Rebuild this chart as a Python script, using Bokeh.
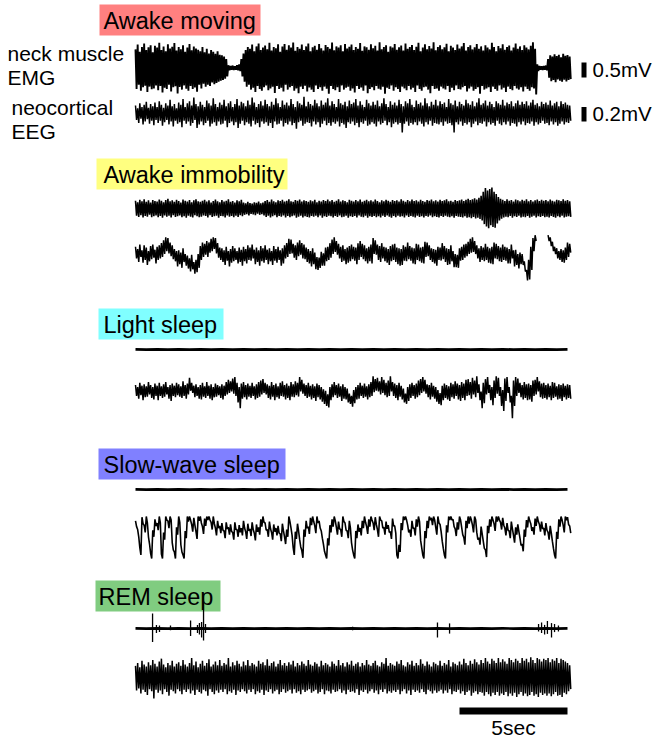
import numpy as np
from bokeh.plotting import figure
from bokeh.models import Range1d
from bokeh.core.properties import value
from bokeh.embed import file_html
from bokeh.resources import INLINE

# ---------------------------------------------------------------- data
# Dense channels are stored as min/max envelopes per 0.1 s bin (uV);
# quiet EMG channels as plain samples every 0.5 s.
DT_BIN = 0.1
DT_SLOW = 0.5

states = ["Awake moving", "Awake immobility", "Light sleep", "Slow-wave sleep", "REM sleep"]
state_colors = ["#FF8080", "#FFFF80", "#80FFFF", "#8080FF", "#80CC80"]

awake_moving_emg_max = [
    620, 780, 540, 700, 820, 600, 690, 760, 520, 740,
    680, 840, 600, 720, 560, 790, 650, 710, 830, 580,
    700, 620, 760, 540, 680, 800, 590, 720, 650, 610,
    560, 700, 520, 640, 480, 600, 540, 470, 560, 440,
    420, 380, 300, 90, 70, 80, 60, 90, 120, 300,
    480, 600, 700, 640, 780, 560, 720, 820, 600, 680,
    750, 620, 840, 580, 700, 660, 790, 540, 720, 800,
    610, 760, 680, 850, 570, 700, 640, 780, 600, 720,
    820, 560, 690, 740, 610, 800, 660, 580, 770, 700,
    640, 850, 590, 720, 680, 760, 560, 800, 650, 710,
    780, 600, 700, 640, 830, 570, 720, 690, 610, 790,
    660, 740, 580, 860, 620, 700, 760, 540, 720, 680,
    800, 610, 690, 750, 580, 820, 640, 700, 770, 600,
    710, 840, 560, 680, 790, 620, 730, 650, 860, 590,
    700, 760, 620, 690, 810, 560, 740, 680, 600, 780,
    650, 720, 830, 580, 700, 760, 620, 690, 800, 640,
    720, 580, 760, 680, 620, 840, 700, 560, 730, 660,
    790, 610, 700, 750, 580, 680, 820, 640, 720, 600,
    760, 680, 620, 740, 860, 640, 120, 70, 60, 70,
    80, 300, 420, 380, 460, 400, 440, 360, 470, 410, 430, 380,
]
awake_moving_emg_min = [
    -700, -560, -760, -640, -590, -800, -620, -710, -680, -580,
    -740, -600, -820, -660, -700, -560, -780, -640, -610, -850,
    -630, -720, -580, -690, -760, -600, -700, -650, -790, -560,
    -680, -520, -620, -560, -600, -480, -540, -500, -460, -420,
    -400, -360, -280, -80, -60, -70, -60, -80, -100, -280,
    -460, -620, -560, -720, -660, -800, -600, -700, -760, -640,
    -580, -740, -680, -620, -830, -600, -700, -660, -780, -560,
    -720, -640, -600, -760, -680, -840, -620, -700, -590, -780,
    -650, -720, -800, -580, -700, -640, -760, -620, -690, -860,
    -600, -700, -740, -640, -800, -580, -720, -660, -620, -760,
    -680, -820, -600, -700, -650, -760, -580, -840, -700, -640,
    -740, -600, -690, -720, -620, -860, -660, -700, -580, -760,
    -640, -700, -800, -620, -680, -740, -600, -720, -660, -800,
    -580, -700, -760, -640, -620, -720, -840, -600, -700, -680,
    -760, -620, -680, -720, -600, -800, -660, -740, -580, -700,
    -720, -640, -600, -780, -680, -620, -760, -700, -640, -860,
    -600, -720, -680, -640, -800, -620, -700, -760, -580, -720,
    -660, -800, -620, -700, -740, -600, -680, -720, -640, -780,
    -620, -700, -760, -640, -680, -880, -100, -60, -70, -60,
    -80, -320, -440, -400, -470, -380, -420, -460, -390, -450, -400, -370,
]

awake_moving_eeg_max = [
    110, 70, 140, 90, 120, 160, 80, 130, 100, 150,
    90, 170, 120, 80, 140, 110, 190, 100, 130, 70,
    150, 120, 200, 90, 140, 170, 110, 220, 130, 100,
    160, 120, 90, 180, 140, 110, 210, 130, 90, 150,
    120, 190, 100, 140, 170, 90, 130, 200, 110, 160,
    140, 100, 180, 120, 220, 150, 90, 130, 170, 110,
    190, 130, 100, 160, 120, 210, 140, 90, 180, 120,
    150, 110, 200, 130, 90, 170, 140, 120, 230, 100,
    160, 130, 110, 190, 140, 100, 180, 120, 150, 210,
    110, 170, 130, 90, 200, 140, 120, 160, 100, 180,
    130, 150, 200, 110, 170, 120, 90, 190, 140, 110,
    160, 120, 180, 100, 140, 210, 130, 90, 170, 120,
    150, 110, 190, 130, 100, 170, 140, 200, 120, 90,
    180, 130, 150, 110, 210, 140, 100, 160, 120, 190,
    110, 170, 130, 150, 90, 200, 140, 120, 180, 100,
    160, 130, 110, 190, 140, 120, 170, 100, 150, 210,
    120, 140, 180, 110, 160, 130, 90, 170, 140, 120,
    190, 110, 150, 130, 170, 100, 140, 180, 120, 160,
    130, 170, 110, 150, 190, 120, 140, 100, 160, 130,
    150, 120, 180, 110, 140, 160, 100, 170, 130, 150, 120, 110,
]
awake_moving_eeg_min = [
    -90, -130, -70, -150, -110, -80, -140, -100, -160, -90,
    -130, -100, -170, -120, -90, -150, -110, -180, -100, -140,
    -120, -190, -100, -140, -110, -170, -130, -90, -200, -150,
    -110, -160, -130, -100, -180, -140, -120, -170, -110, -150,
    -140, -100, -190, -130, -110, -160, -120, -200, -140, -100,
    -160, -120, -140, -180, -100, -150, -130, -190, -110, -140,
    -120, -170, -130, -200, -110, -150, -140, -100, -180, -130,
    -150, -110, -160, -130, -210, -120, -100, -170, -140, -120,
    -130, -180, -110, -150, -120, -190, -140, -100, -160, -130,
    -170, -120, -140, -110, -180, -130, -150, -200, -120, -140,
    -110, -160, -130, -190, -120, -140, -100, -170, -150, -120,
    -140, -180, -110, -150, -130, -100, -160, -120, -190, -140,
    -120, -150, -130, -260, -140, -110, -170, -130, -150, -120,
    -160, -110, -140, -180, -120, -150, -100, -170, -130, -140,
    -150, -120, -170, -110, -140, -130, -160, -260, -120, -150,
    -110, -170, -130, -150, -120, -190, -140, -110, -160, -130,
    -140, -110, -180, -120, -150, -130, -170, -100, -140, -160,
    -120, -150, -110, -170, -130, -140, -180, -120, -150, -110,
    -160, -130, -140, -110, -170, -120, -150, -130, -100, -140,
    -130, -160, -110, -150, -120, -170, -140, -110, -150, -120, -130, -100,
]

awake_immobility_emg_max = [
    260, 210, 290, 240, 310, 220, 270, 200, 280, 250,
    230, 300, 260, 210, 280, 320, 240, 270, 220, 290,
    250, 200, 300, 260, 230, 280, 210, 270, 310, 240,
    220, 260, 290, 230, 270, 200, 250, 300, 240, 210,
    280, 230, 260, 310, 220, 250, 200, 270, 240, 290,
    200, 170, 220, 180, 160, 210, 190, 230, 170, 200,
    250, 280, 220, 300, 240, 210, 270, 250, 290, 230,
    260, 310, 240, 220, 280, 260, 300, 230, 270, 250,
    220, 270, 240, 290, 210, 260, 230, 280, 250, 300,
    240, 280, 220, 260, 310, 230, 270, 250, 210, 290,
    260, 230, 280, 240, 300, 220, 260, 290, 240, 270,
    230, 300, 250, 210, 270, 240, 290, 260, 220, 280,
    250, 270, 230, 310, 260, 220, 280, 240, 300, 250,
    270, 230, 290, 250, 220, 280, 260, 300, 240, 270,
    230, 290, 250, 270, 310, 240, 260, 220, 280, 250,
    270, 300, 250, 290, 320, 280, 310, 340, 300, 360,
    420, 560, 680, 600, 650, 700, 560, 480, 380, 320,
    290, 250, 310, 260, 280, 230, 300, 270, 240, 290,
    260, 310, 240, 280, 230, 270, 300, 250, 290, 260,
    280, 240, 300, 260, 230, 290, 270, 250, 310, 260, 280, 240,
]
awake_immobility_emg_min = [
    -240, -280, -220, -300, -250, -270, -210, -290, -260, -230,
    -290, -250, -310, -230, -270, -240, -300, -220, -280, -260,
    -230, -290, -260, -310, -240, -270, -300, -220, -260, -290,
    -270, -230, -250, -300, -220, -280, -260, -240, -310, -250,
    -260, -300, -230, -270, -250, -290, -240, -280, -220, -260,
    -210, -190, -230, -180, -200, -220, -170, -210, -190, -230,
    -280, -240, -300, -260, -220, -290, -250, -270, -230, -300,
    -250, -290, -260, -230, -310, -270, -240, -300, -260, -280,
    -300, -250, -270, -240, -290, -230, -310, -260, -280, -240,
    -260, -300, -250, -280, -230, -290, -270, -240, -310, -260,
    -280, -250, -300, -230, -270, -290, -240, -310, -260, -280,
    -250, -290, -260, -300, -240, -280, -230, -270, -310, -250,
    -290, -240, -270, -260, -300, -230, -280, -250, -270, -300,
    -240, -280, -260, -300, -250, -270, -230, -290, -260, -280,
    -300, -250, -280, -240, -270, -290, -260, -310, -250, -270,
    -280, -300, -260, -310, -290, -320, -280, -330, -310, -350,
    -400, -520, -600, -660, -560, -620, -640, -500, -400, -340,
    -300, -270, -290, -250, -310, -260, -280, -240, -300, -270,
    -290, -250, -310, -270, -240, -300, -260, -280, -250, -290,
    -270, -300, -250, -280, -310, -260, -290, -240, -300, -270, -260, -280,
]

# None: signal outside the recorded window
awake_immobility_eeg_max = [
    120, 90, 150, 70, 140, 110, 60, 130, 150, 80,
    120, 140, 170, 210, 250, 240, 180, 140, 90, 60,
    70, 40, 100, 20, 0, -40, 10, -90, -60, 20,
    130, 180, 160, 200, 180, 230, 250, 240, 170, 110,
    100, 70, 120, 60, 90, 130, 100, 60, 110, 80,
    120, 90, 140, 110, 150, 80, 110, 70, 130, 100,
    140, 80, 100, 60, 130, 90, 120, 70, 100, 140,
    170, 230, 220, 160, 140, 180, 210, 170, 150, 110,
    90, 60, 100, 40, -20, -30, 50, 30, 110, 120,
    170, 220, 250, 200, 160, 120, 140, 90, 110, 130,
    150, 120, 110, 170, 200, 160, 140, 100, 120, 150,
    240, 210, 150, 130, 170, 120, 110, 90, 130, 150,
    160, 110, 100, 90, 140, 120, 180, 130, 110, 100,
    160, 150, 110, 120, 190, 180, 140, 100, 90, 80,
    120, 110, 170, 130, 100, 90, 140, 60, 20, 10,
    100, 120, 150, 160, 190, 230, 250, 200, 140, 100,
    130, 110, 160, 120, 100, 120, 180, 160, 130, 110,
    150, 120, 110, 90, 150, 70, 80, 20, 40, 20,
    -80, -200, -60, 120, 240, 280,
    None, None, None, None, None,
    280, 250, 190, 120, 100, 60, 90, 70, 110, 180, 160,
]
awake_immobility_eeg_min = [
    -40, -90, -20, -100, -60, -130, -80, -50, -30, -110,
    -60, -40, -20, 20, 60, 30, -10, -50, -80, -150,
    -120, -170, -90, -140, -180, -220, -190, -250, -230, -170,
    -60, -20, 10, -20, 40, 60, 90, 30, -30, -60,
    -90, -130, -70, -150, -100, -80, -60, -110, -90, -140,
    -80, -110, -60, -70, -40, -120, -90, -140, -80, -100,
    -60, -120, -80, -130, -70, -100, -60, -140, -110, -40,
    -20, 20, 30, -30, -60, -10, 10, -40, -50, -90,
    -110, -150, -120, -190, -200, -170, -140, -140, -80, -60,
    -30, 20, 50, 10, -40, -90, -70, -120, -100, -80,
    -50, -70, -120, -60, -20, -50, -80, -110, -80, -110,
    20, 10, -60, -90, -40, -80, -100, -130, -80, -60,
    -90, -120, -140, -130, -70, -80, -50, -70, -110, -120,
    -60, -80, -100, -110, -20, -10, -60, -90, -110, -140,
    -60, -70, -50, -90, -130, -120, -80, -160, -160, -170,
    -70, -60, -30, -10, 20, 40, 50, 20, -40, -90,
    -60, -80, -60, -100, -110, -120, -40, -50, -80, -90,
    -60, -70, -110, -110, -40, -150, -130, -180, -120, -130,
    -220, -345, -330, -200, 60, 200,
    None, None, None, None, None,
    200, 130, 60, 20, -40, -60, -90, -100, -60, -20, 40,
]

light_sleep_emg = [
    4, -3, 5, -4, 3, -5, 4, -3, 5, -4, 3, -5, 4, -3,
    5, -4, 3, -4, 5, -5, 4, -3, 4, -5, 5, -3, 3, -4,
    4, -5, 5, -3, 4, -4, 5, -4, 3, -5, 4, -4, 5,
]

light_sleep_eeg_max = [
    90, 60, 120, 80, 100, 70, 130, 90, 60, 110,
    80, 120, 70, 100, 130, 60, 90, 110, 80, 120,
    100, 70, 140, 90, 110, 190, 120, 80, 100, 60,
    90, 120, 70, 130, 80, 100, 60, 110, 90, 70,
    100, 80, 130, 160, 140, 180, 200, 120, 60, 110,
    130, 90, 110, 80, 120, 70, 100, 130, 150, 170,
    120, 100, 80, 130, 90, 110, 70, 120, 140, 90,
    110, 80, 130, 100, 140, 120, 200, 160, 110, 90,
    120, 80, 100, 70, 110, 90, 60, 30, 10, -40,
    60, 100, 130, 90, 110, 70, 100, 60, 40, -30,
    -60, 20, 60, 90, 120, 80, 110, 70, 100, 130,
    210, 170, 190, 140, 200, 160, 120, 150, 210, 130,
    110, 90, 120, 80, 40, -30, 60, 100, 120, 90,
    110, 150, 170, 200, 160, 100, 90, 120, 80, 60,
    20, -20, 80, 110, 90, 70, 120, 100, 140, 110,
    90, 130, 110, 160, 170, 130, 190, 150, 210, 100,
    0, 120, 170, 200, 90, 60, 150, 210, 190, 60,
    20, 180, 200, 60, -60, 150, 200, 180, 120, 90,
    130, 100, 110, 90, 150, 160, 200, 140, 110, 120,
    90, 110, 80, 130, 120, 70, 100, 90, 110, 80, 100, 90,
]
light_sleep_eeg_min = [
    -60, -100, -50, -120, -80, -70, -40, -90, -110, -60,
    -120, -60, -90, -70, -40, -100, -130, -60, -80, -50,
    -70, -90, -60, -100, -40, 10, -20, -80, -60, -100,
    -110, -70, -90, -60, -100, -120, -80, -70, -50, -90,
    -110, -60, -40, -20, 0, -30, -60, -150, -230, -100,
    -80, -110, -70, -90, -60, -110, -90, -70, -40, -20,
    -40, -90, -110, -70, -120, -80, -100, -60, -70, -110,
    -90, -120, -70, -80, -50, -70, 0, -30, -60, -90,
    -70, -110, -90, -130, -80, -110, -140, -170, -200, -220,
    -120, -80, -50, -90, -70, -130, -100, -110, -150, -170,
    -210, -160, -110, -100, -60, -90, -70, -110, -80, -60,
    -10, 10, 0, -40, -20, -50, -80, -60, 0, -60,
    -90, -120, -70, -110, -150, -170, -130, -90, -60, -100,
    -80, -50, -20, 0, -30, -80, -110, -70, -100, -140,
    -170, -190, -120, -90, -110, -130, -80, -100, -60, -110,
    -130, -90, -120, -60, -50, -100, -40, -80, -20, -120,
    -230, -160, -40, -20, -120, -190, -90, -30, -60, -200,
    -270, -130, -20, -150, -370, -200, -60, -20, -80, -110,
    -90, -120, -110, -140, -60, -40, 0, -80, -100, -90,
    -110, -80, -120, -90, -70, -110, -100, -130, -80, -110, -90, -100,
]

slow_wave_emg = [
    3, -4, 5, -3, 4, -5, 3, -4, 5, -4, 3, -5, 4, -3,
    5, -3, 4, -4, 3, -5, 4, -3, 5, -4, 4, -3, 3, -5,
    5, -4, 3, -3, 4, -5, 5, -3, 3, -4, 4, -5, 3,
]

slow_wave_eeg_max = [
    230, 110, -140, 280, 170, 290, 10, -220, 100, 250,
    200, 290, -230, 70, 290, 230, 290, -70, -200, 140,
    290, -100, -240, 90, 290, 290, 180, 270, 80, 290,
    290, 150, 260, 290, 290, 210, 290, 130, 230, 160,
    200, 90, 210, 140, 180, 70, 210, 110, 170, 130,
    230, 80, 190, 120, 210, 60, 180, 140, 250, 290,
    200, 110, 220, 70, 180, 130, 160, 50, 190, 10,
    110, 290, 130, -140, 80, 190, -30, -180, 110, 230,
    150, 270, 290, 160, 290, 230, 90, -90, -240, -10,
    170, 250, 290, 140, 220, 110, 290, 200, 90, 230,
    -70, -240, 90, 180, 130, 230, 290, 150, 250, 290,
    200, 280, 110, 290, 230, 140, 220, 170, 80, 260,
    160, -240, -100, 200, 290, 290, 170, 110, 230, 130,
    250, 290, -40, -240, 90, 230, 290, 270, 290, 140,
    290, 180, -50, -240, 170, 290, 290, 250, 120, 210,
    290, 140, 0, 230, 290, 290, 170, 290, 70, 0,
    150, -50, -170, 160, 250, 290, 190, 290, 290, 210,
    270, 130, 200, 90, 220, 30, 140, 180, -10, -90,
    110, 240, 290, 190, 140, 260, 290, 180, 220, 130,
    200, 70, 160, -50, -240, 80, 250, 290, 170, 290, 280, 160,
]
slow_wave_eeg_min = [
    150, 10, -240, 190, 70, 200, -90, -290, 10, 160,
    100, 200, -290, -30, 240, 130, 240, -170, -290, 40,
    210, -200, -290, -10, 220, 240, 80, 170, -20, 230,
    200, 50, 160, 240, 240, 110, 190, 30, 130, 60,
    100, -10, 120, 40, 80, -30, 110, 10, 70, 30,
    130, -20, 90, 20, 110, -40, 80, 40, 150, 210,
    100, 10, 120, -30, 80, 30, 60, -50, 90, -90,
    10, 220, 30, -240, -20, 90, -130, -280, 10, 130,
    50, 170, 220, 60, 200, 130, -10, -190, -290, -110,
    70, 150, 230, 40, 120, 10, 220, 100, -10, 130,
    -170, -290, -10, 80, 30, 130, 210, 50, 150, 240,
    100, 180, 10, 240, 130, 40, 120, 70, -20, 160,
    60, -290, -200, 100, 240, 240, 70, 10, 130, 30,
    150, 220, -140, -290, -10, 130, 240, 170, 240, 40,
    200, 80, -150, -290, 70, 240, 240, 150, 20, 110,
    240, 40, -100, 130, 190, 240, 70, 240, -30, -100,
    50, -150, -270, 60, 150, 240, 90, 220, 240, 110,
    170, 30, 100, -10, 120, -70, 40, 80, -110, -190,
    10, 140, 230, 90, 40, 160, 220, 80, 120, 30,
    100, -30, 60, -150, -290, -20, 150, 240, 70, 240, 180, 60,
]

rem_emg_baseline = [
    4, -5, 3, -4, 5, -3, 4, -5, 3, -4, 5, -3, 4, -3,
    3, -5, 4, -4, 5, -3, 3, -4, 5, -5, 3, -3, 4, -4,
    5, -3, 3, -5, 4, -4, 3, -3, 5, -5, 4, -3, 4,
]

# Discrete EMG twitches during REM sleep: time (s), upper and lower extent (uV)
rem_twitch_t = [0.79, 0.97, 1.11, 1.62, 2.55, 2.87, 2.96, 3.06, 3.15, 3.24,
                10.05, 13.98, 14.54, 18.66, 18.80, 18.94, 19.07, 19.26, 19.40, 19.58]
rem_twitch_hi = [500, 120, 100, 100, 270, 120, 180, 220, 1170, 150,
                 60, 200, 170, 150, 200, 120, 250, 180, 150, 100]
rem_twitch_lo = [-450, -150, -120, -60, -250, -150, -200, -300, -400, -150,
                 -60, -300, -170, -100, -150, -200, -180, -300, -120, -100]

rem_eeg_max = [
    160, 200, 140, 230, 180, 150, 210, 170, 240, 190,
    150, 220, 260, 180, 140, 200, 170, 230, 150, 190,
    210, 160, 240, 180, 150, 200, 270, 170, 220, 140,
    190, 230, 160, 200, 250, 150, 180, 220, 170, 240,
    160, 200, 180, 270, 150, 210, 170, 230, 190, 150,
    220, 170, 240, 160, 200, 180, 150, 230, 190, 210,
    170, 250, 160, 200, 220, 150, 190, 240, 170, 200,
    160, 210, 180, 230, 150, 200, 170, 220, 190, 160,
    240, 180, 160, 210, 190, 150, 230, 170, 200, 180,
    150, 220, 190, 160, 240, 170, 200, 150, 210, 180,
    230, 160, 190, 210, 150, 200, 170, 240, 180, 160,
    200, 230, 170, 150, 210, 190, 270, 160, 200, 180,
    160, 220, 190, 240, 170, 150, 210, 180, 230, 160,
    200, 170, 250, 190, 160, 220, 180, 150, 210, 190,
    170, 230, 160, 200, 180, 240, 150, 210, 190, 170,
    220, 180, 260, 200, 170, 230, 190, 250, 210, 180,
    240, 200, 270, 220, 190, 260, 230, 200, 270, 210,
    250, 220, 190, 270, 240, 210, 260, 230, 200, 270,
    230, 260, 210, 280, 240, 200, 270, 250, 220, 260,
    240, 270, 210, 250, 230, 270, 200, 260, 240, 220, 200, 170,
]
rem_eeg_min = [
    -180, -150, -220, -170, -200, -240, -160, -190, -290, -170,
    -210, -180, -230, -160, -200, -250, -170, -190, -220, -160,
    -190, -230, -170, -200, -160, -220, -180, -240, -170, -200,
    -220, -170, -190, -250, -160, -200, -230, -180, -210, -170,
    -200, -160, -230, -190, -210, -170, -240, -180, -200, -160,
    -190, -220, -170, -200, -160, -230, -190, -210, -170, -240,
    -180, -200, -160, -220, -190, -170, -230, -200, -160, -210,
    -190, -170, -220, -160, -210, -190, -230, -170, -200, -180,
    -160, -210, -190, -170, -220, -200, -160, -230, -180, -190,
    -220, -170, -200, -190, -160, -210, -180, -230, -170, -200,
    -190, -210, -160, -240, -180, -200, -170, -220, -190, -160,
    -210, -180, -230, -170, -200, -160, -220, -190, -210, -180,
    -200, -170, -230, -190, -160, -220, -180, -240, -170, -200,
    -180, -210, -160, -200, -230, -170, -190, -220, -180, -210,
    -190, -170, -220, -180, -210, -160, -230, -190, -200, -170,
    -220, -190, -240, -200, -180, -250, -210, -190, -230, -200,
    -210, -250, -200, -230, -260, -210, -240, -200, -250, -220,
    -240, -200, -260, -220, -250, -210, -270, -230, -200, -250,
    -220, -260, -240, -200, -250, -230, -270, -210, -240, -220,
    -250, -220, -260, -230, -200, -250, -240, -270, -210, -230, -190, -160,
]

scale_emg_uv = 500    # 0.5 mV
scale_eeg_uv = 200    # 0.2 mV
scale_time_s = 5      # 5 sec

# ---------------------------------------------------------------- layout
W, H = 656, 742
PX_PER_S = 21.6       # horizontal scale
T0_PX = 135           # left edge of every trace
EMG_GAIN = 15 / 500   # px per uV
EEG_GAIN = 14.5 / 200
TEXT_DY = -8          # baseline correction for text glyphs

def t_of(px):
    return (px - T0_PX) / PX_PER_S

p = figure(width=W, height=H, output_backend="svg", toolbar_location=None,
           x_range=Range1d(t_of(0), t_of(W)), y_range=Range1d(H, 0),
           min_border=0, outline_line_color=None)
p.axis.visible = False
p.grid.visible = False
p.background_fill_color = "white"
p.border_fill_color = "white"

FONT = value("Liberation Sans")

# state label boxes
box_left = [99, 96, 98, 98, 95]
box_right = [260, 287, 223, 285, 220]
box_top = [4, 158, 308, 448, 580]
text_x = [103, 103, 103, 103, 98]
p.quad(left=[t_of(v) for v in box_left], right=[t_of(v) for v in box_right],
       top=box_top, bottom=[v + 31 for v in box_top],
       fill_color=state_colors, line_color=None)
p.text(x=[t_of(v) for v in text_x], y=[v + 24.5 + TEXT_DY for v in box_top],
       text=states, text_font=FONT, text_font_size="23.5px",
       text_baseline="alphabetic", text_color="black")

# channel names
p.text(x=[t_of(7), t_of(7), t_of(11), t_of(11)],
       y=[v + TEXT_DY for v in (61, 85, 115, 139)],
       text=["neck muscle", "EMG", "neocortical", "EEG"],
       text_font=FONT, text_font_size="21px", text_baseline="alphabetic",
       text_color="black")


def envelope(upper, lower, center, gain, width):
    """Dense trace drawn as max/min excursions within each bin,
    broken where samples are missing."""
    u = np.array(upper, dtype=float)
    lo = np.array(lower, dtype=float)
    n = min(len(u), len(lo))
    u, lo = u[:n], lo[:n]
    t = np.arange(n) * DT_BIN
    ok = ~(np.isnan(u) | np.isnan(lo))
    idx = np.flatnonzero(ok)
    runs = np.split(idx, np.flatnonzero(np.diff(idx) > 1) + 1)
    for r in runs:
        if len(r) == 0:
            continue
        tt = np.empty(2 * len(r))
        yy = np.empty(2 * len(r))
        tt[0::2] = t[r]
        tt[1::2] = t[r] + DT_BIN / 2
        yy[0::2] = center - gain * u[r]
        yy[1::2] = center - gain * lo[r]
        p.line(tt, yy, line_color="black", line_width=width, line_join="bevel")


def quiet(vals, center, gain, width):
    v = np.array(vals, dtype=float)
    t = np.arange(len(v)) * DT_SLOW
    p.line(t, center - gain * v, line_color="black", line_width=width)


envelope(awake_moving_emg_max, awake_moving_emg_min, 67.5, EMG_GAIN, 1.9)
envelope(awake_moving_eeg_max, awake_moving_eeg_min, 113, EEG_GAIN, 1.5)
envelope(awake_immobility_emg_max, awake_immobility_emg_min, 208, EMG_GAIN, 1.6)
envelope(awake_immobility_eeg_max, awake_immobility_eeg_min, 255, EEG_GAIN, 1.5)
quiet(light_sleep_emg, 349, EMG_GAIN, 2.8)
envelope(light_sleep_eeg_max, light_sleep_eeg_min, 391, EEG_GAIN, 1.5)
quiet(slow_wave_emg, 489, EMG_GAIN, 2.8)
envelope(slow_wave_eeg_max, slow_wave_eeg_min, 537, EEG_GAIN, 1.6)
quiet(rem_emg_baseline, 628, EMG_GAIN, 2.6)
envelope(rem_eeg_max, rem_eeg_min, 677, EEG_GAIN, 1.5)

REM_EMG_Y = 628
p.segment(x0=rem_twitch_t, x1=rem_twitch_t,
          y0=[REM_EMG_Y - EMG_GAIN * v for v in rem_twitch_hi],
          y1=[REM_EMG_Y - EMG_GAIN * v for v in rem_twitch_lo],
          line_color="black", line_width=1.3)

# amplitude scale bars
bar_l, bar_r = t_of(581), t_of(586)
p.quad(left=[bar_l, bar_l], right=[bar_r, bar_r],
       top=[77 - EMG_GAIN * scale_emg_uv, 121 - EEG_GAIN * scale_eeg_uv],
       bottom=[77, 121], fill_color="black", line_color=None)
p.text(x=[t_of(592), t_of(592)], y=[77 + TEXT_DY, 121 + TEXT_DY],
       text=["0.5mV", "0.2mV"],
       text_font=FONT, text_font_size="20.5px", text_baseline="alphabetic",
       text_color="black")

# time scale bar (ends at the 20 s mark)
p.quad(left=[20 - scale_time_s], right=[20], top=[707], bottom=[714],
       fill_color="black", line_color=None)
p.text(x=[17.5], y=[735 + TEXT_DY], text=["5sec"], text_font=FONT,
       text_font_size="21px", text_baseline="alphabetic", text_align="center",
       text_color="black")

open("out.html", "w").write(file_html(p, INLINE))
